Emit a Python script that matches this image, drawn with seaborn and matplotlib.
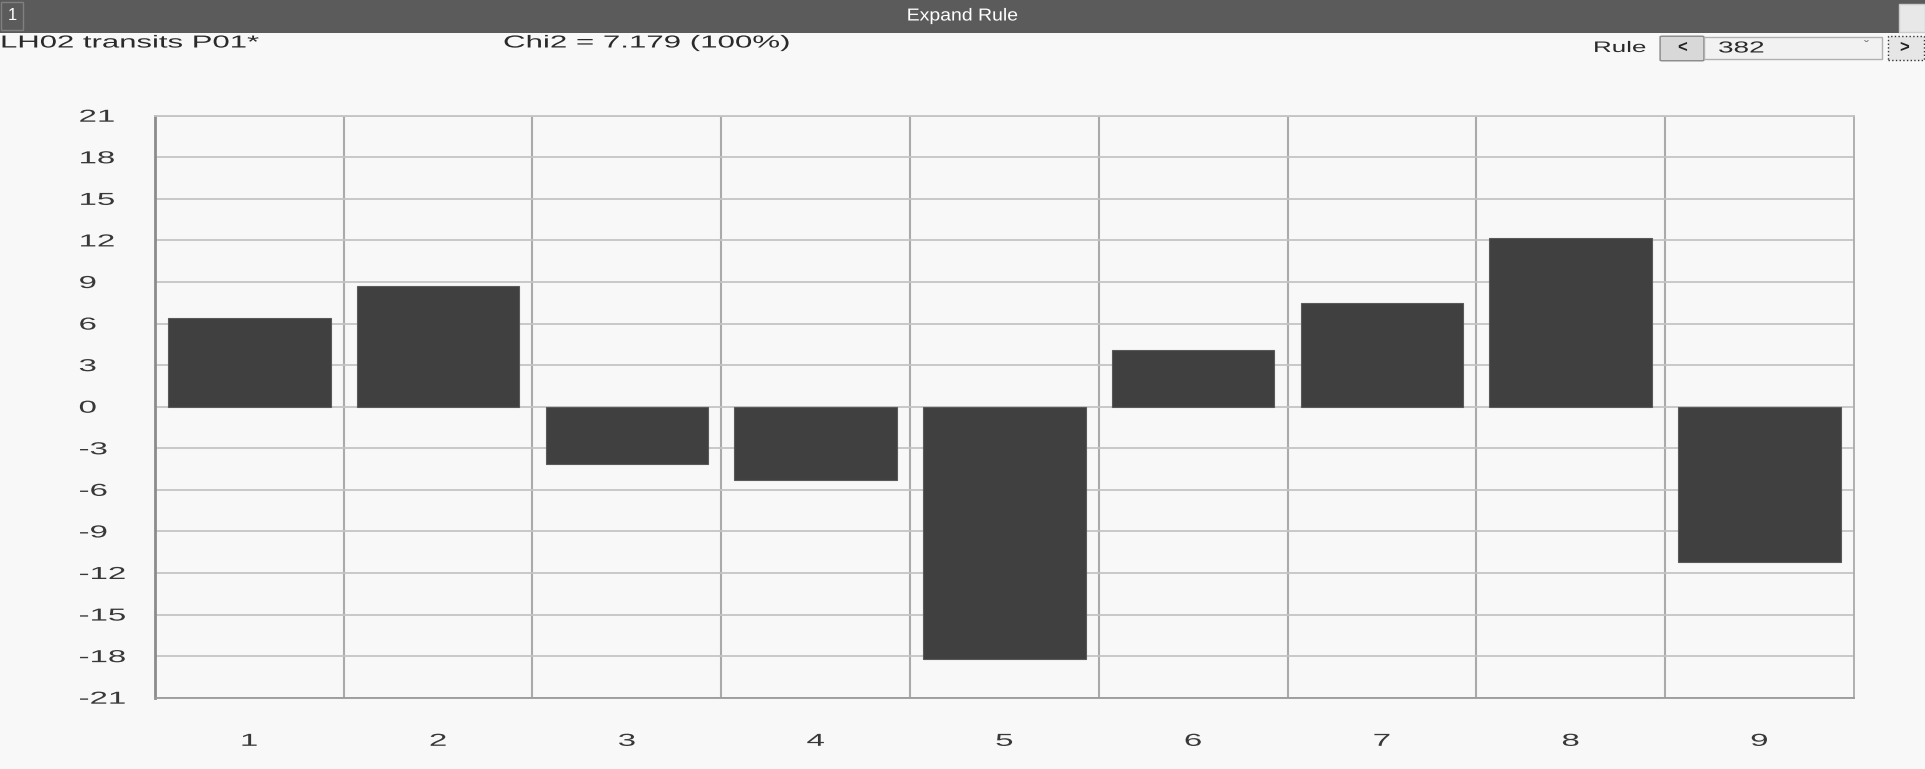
import matplotlib
matplotlib.use("Agg")
import matplotlib.pyplot as plt
import seaborn as sns
import pandas as pd
from matplotlib.patches import Rectangle, FancyBboxPatch
from matplotlib.patheffects import AbstractPathEffect
from matplotlib.transforms import Affine2D

# data
categories = ["1", "2", "3", "4", "5", "6", "7", "8", "9"]
values = [6.4, 8.7, -4.1, -5.3, -18.2, 4.1, 7.5, 12.2, -11.2]
yticks = list(range(-21, 22, 3))

title_left = "LH02 transits P01*"
title_chi = "Chi2 = 7.179 (100%)"
header = "Expand Rule"
rule_value = "382"

bg = "#f8f8f8"
bar_color = "#404040"
grid_color = "#c4c4c4"
text_color = "#383838"


class Stretch(AbstractPathEffect):
    # the screenshot is squashed sideways, so the glyphs come out wide
    def __init__(self, sx, anchor=0.0):
        super().__init__()
        self.sx = sx
        self.anchor = anchor

    def draw_path(self, renderer, gc, tpath, affine, rgbFace=None):
        ext = tpath.get_extents()
        px = 0 if self.anchor == 0 else ext.x0 + self.anchor * ext.width
        pre = Affine2D().translate(-px, 0).scale(self.sx, 1).translate(px, 0)
        renderer.draw_path(gc, tpath, pre + affine, rgbFace)


sns.set_style("white")
plt.rcParams["font.family"] = ["Liberation Sans", "DejaVu Sans"]

fig = plt.figure(figsize=(19.25, 7.69), dpi=100, facecolor=bg)
ax = fig.add_axes([0.0805, 0.0927, 0.8825, 0.7568])
ax.set_facecolor(bg)

df = pd.DataFrame({"cat": categories, "val": values})
sns.barplot(data=df, x="cat", y="val", color=bar_color, saturation=1,
            width=0.86, edgecolor="#5a5a5a", linewidth=0.8, ax=ax)

ax.set_ylim(-21, 21)
ax.set_xlim(-0.5, len(categories) - 0.5)
ax.set_yticks(yticks)
ax.set_yticklabels([str(t) for t in yticks])
ax.set_xticks(range(len(categories)))
ax.set_xticklabels(categories)
ax.set_xticks([i + 0.5 for i in range(len(categories) - 1)], minor=True)
ax.set_xlabel("")
ax.set_ylabel("")
ax.yaxis.grid(True, color=grid_color, linewidth=1.3)
ax.xaxis.grid(True, which="minor", color="#aaaaaa", linewidth=1.5)
ax.xaxis.grid(False, which="major")
ax.set_axisbelow(True)
ax.tick_params(axis="both", which="both", length=0, labelsize=12.5, colors=text_color)
ax.tick_params(axis="x", pad=26)
ax.tick_params(axis="y", pad=55)
for lab in ax.get_yticklabels():
    lab.set_horizontalalignment("left")
    lab.set_path_effects([Stretch(1.9, 0)])
for lab in ax.get_xticklabels():
    lab.set_path_effects([Stretch(1.9, 0.5)])
for name, sp in ax.spines.items():
    sp.set_visible(True)
    sp.set_color(grid_color)
    sp.set_linewidth(1.3)
ax.spines["left"].set_color("#8c8c8c")
ax.spines["left"].set_linewidth(2)
ax.spines["bottom"].set_color("#9a9a9a")
ax.spines["right"].set_color("#aaaaaa")

# header strip
W, H = 1925, 769
def fx(px):
    return px / W
def fy(py):
    return 1 - py / H

fig.patches.append(Rectangle((0, fy(33)), 1, 33 / H, transform=fig.transFigure,
                             facecolor="#5b5b5b", edgecolor="none"))
fig.patches.append(Rectangle((fx(1), fy(30)), 22 / W, 28 / H, transform=fig.transFigure,
                             facecolor="#5b5b5b", edgecolor="#808080", linewidth=1))
fig.text(fx(12), fy(16), "1", color="white", fontsize=12, ha="center", va="center")
fig.text(0.5, fy(16), header, color="white", fontsize=12.5, ha="center", va="center",
         path_effects=[Stretch(1.12, 0.5)])
fig.patches.append(Rectangle((fx(1899), fy(32)), 26 / W, 28 / H, transform=fig.transFigure,
                             facecolor="#e8e8e8", edgecolor="#cccccc", linewidth=1))

fig.text(fx(0), fy(43), title_left, color="#2a2a2a", fontsize=12.5, ha="left", va="center",
         path_effects=[Stretch(1.79, 0)])
fig.text(fx(503), fy(43), title_chi, color="#2a2a2a", fontsize=12.5, ha="left", va="center",
         path_effects=[Stretch(1.8, 0)])

# rule selector
fig.text(fx(1646), fy(48), "Rule", color="#2a2a2a", fontsize=11, ha="right", va="center",
         path_effects=[Stretch(1.7, 1)])
fig.patches.append(FancyBboxPatch((fx(1662), fy(60)), 40 / W, 23 / H,
                                  boxstyle="round,pad=0.001", transform=fig.transFigure,
                                  facecolor="#d8d8d8", edgecolor="#888888", linewidth=1))
fig.text(fx(1682), fy(48), "<", color="#222222", fontsize=12, ha="center", va="center",
         fontweight="bold")
fig.patches.append(Rectangle((fx(1704), fy(59)), 178 / W, 22 / H, transform=fig.transFigure,
                             facecolor="#f2f2f2", edgecolor="#b0b0b0", linewidth=1))
fig.text(fx(1718), fy(48), rule_value, color="#2a2a2a", fontsize=11.5, ha="left", va="center",
         path_effects=[Stretch(1.75, 0)])
fig.text(fx(1866), fy(47), "\u02c7", color="#777777", fontsize=11, ha="center", va="center")
fig.patches.append(Rectangle((fx(1888), fy(60)), 36 / W, 24 / H, transform=fig.transFigure,
                             facecolor="#e6e6e6", edgecolor="#333333", linewidth=1,
                             linestyle=":"))
fig.text(fx(1904), fy(48), ">", color="#222222", fontsize=12, ha="center", va="center",
         fontweight="bold")

fig.savefig("out.png", dpi=100, facecolor=bg)
